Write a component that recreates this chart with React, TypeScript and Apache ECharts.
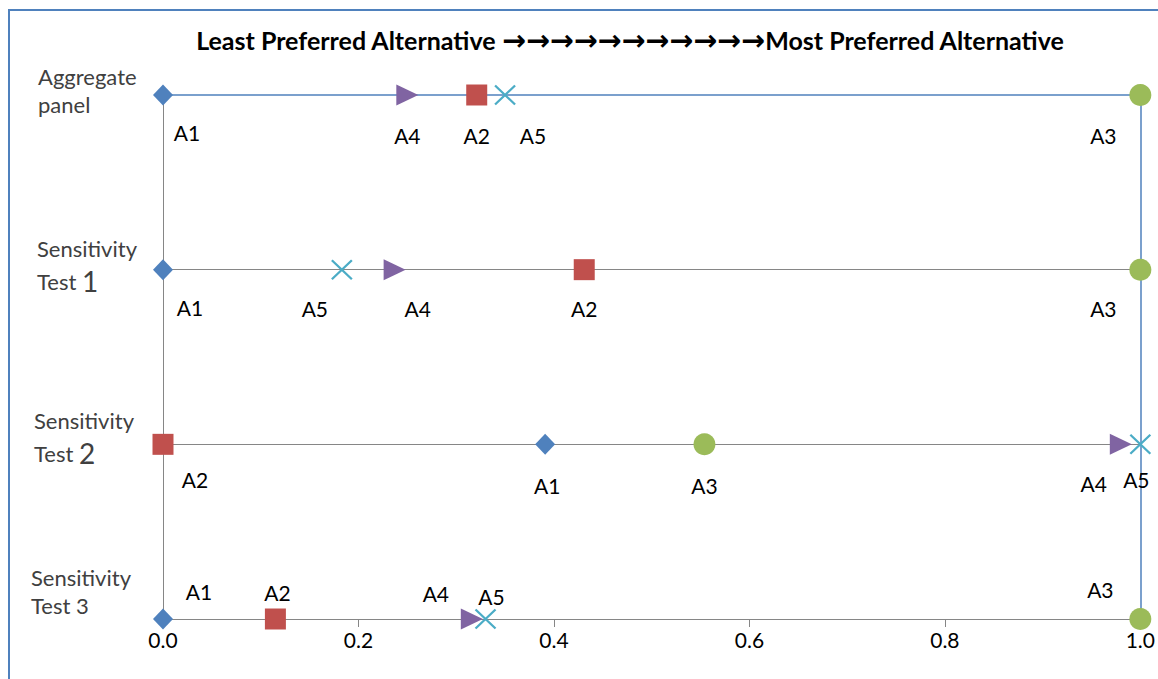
import React, { useEffect, useRef } from 'react';
import * as echarts from 'echarts';

// Rows, top to bottom, and the y level each row sits on
const rowNames = ['Aggregate panel', 'Sensitivity Test 1', 'Sensitivity Test 2', 'Sensitivity Test 3'];
const rowLevels = [3, 2, 1, 0];
const bigDigitRows = [false, true, true, false];

// Alternatives and their normalised preference scores per row
const alternatives = ['A1', 'A2', 'A3', 'A4', 'A5'];
const a1Scores = [0, 0, 0.391, 0];
const a2Scores = [0.321, 0.431, 0, 0.115];
const a3Scores = [1, 1, 0.554, 1];
const a4Scores = [0.25, 0.237, 0.98, 0.316];
const a5Scores = [0.35, 0.183, 1, 0.33];

const xTicks = [0, 0.2, 0.4, 0.6, 0.8, 1.0];

const titleLeft = 'Least Preferred Alternative ';
const titleArrows = '→→→→→→→→→→→';
const titleRight = 'Most Preferred Alternative';

// Label placement (pixel offset from the marker centre), per alternative per row
const labelOffsets: number[][][] = [
  [[24, 37], [27, 38], [2, 41], [36, -28]],
  [[0, 40], [0, 39], [32, 35], [2, -27]],
  [[-37, 40], [-37, 39], [0, 41], [-40, -30]],
  [[0, 40], [23, 39], [-27, 39], [-36, -26]],
  [[28, 40], [-27, 39], [-4, 35], [6, -23]],
];

const markerStyles = [
  { symbol: 'diamond', size: [20, 21], color: '#4F81BD', stroke: false },
  { symbol: 'rect', size: 21, color: '#C0504D', stroke: false },
  { symbol: 'circle', size: 22, color: '#9BBB59', stroke: false },
  { symbol: 'path://M0,0L10,5L0,10Z', size: [22, 21], color: '#8064A2', stroke: false },
  { symbol: 'path://M0,0L10,10M10,0L0,10', size: [20, 19], color: '#4BACC6', stroke: true },
];

const rowLabelAnchors = [[38, 62], [37, 234], [34, 406], [31, 563]];

const FONT = 'Lato, "Open Sans", sans-serif';
const GREY = '#868686';
const BLUE = '#4F81BD';

export default function App() {
  const ref = useRef<HTMLDivElement>(null);

  useEffect(() => {
    if (!ref.current) return;
    const chart = echarts.init(ref.current, null, { renderer: 'svg' });
    const scoreSets = [a1Scores, a2Scores, a3Scores, a4Scores, a5Scores];

    const series = alternatives.map((name, i) => {
      const m = markerStyles[i];
      return {
        type: 'scatter',
        name,
        clip: false,
        silent: true,
        z: 10,
        symbol: m.symbol,
        symbolSize: m.size,
        itemStyle: m.stroke
          ? { color: m.color, borderColor: m.color, borderWidth: 2.2, opacity: 1 }
          : { color: m.color, opacity: 1 },
        label: {
          show: true,
          position: 'inside',
          formatter: name,
          color: '#000',
          fontFamily: FONT,
          fontSize: 21,
          textBorderWidth: 0,
        },
        emphasis: { disabled: true },
        data: scoreSets[i].map((v, r) => ({
          value: [v, rowLevels[r]],
          label: { offset: labelOffsets[i][r] },
        })),
      };
    });

    const rowLabelGraphics = rowNames.map((name, r) => {
      const cut = name.indexOf(' ');
      const first = name.slice(0, cut);
      let second = name.slice(cut + 1);
      if (bigDigitRows[r]) {
        second = second.slice(0, -1) + '{d|' + second.slice(-1) + '}';
      }
      return {
        type: 'text',
        x: rowLabelAnchors[r][0],
        y: rowLabelAnchors[r][1],
        silent: true,
        style: {
          text: first + '\n' + second,
          fill: '#404040',
          fontFamily: FONT,
          fontSize: 22,
          lineHeight: 28,
          align: 'left',
          verticalAlign: 'top',
          rich: {
            d: { fill: '#404040', fontFamily: FONT, fontSize: 28, lineHeight: 38 },
          },
        },
      };
    });

    chart.setOption({
      animation: false,
      backgroundColor: '#fff',
      grid: { left: 163, right: 15, top: 95, bottom: 60, containLabel: false },
      xAxis: [
        {
          type: 'value',
          position: 'bottom',
          min: xTicks[0],
          max: xTicks[xTicks.length - 1],
          interval: 0.2,
          axisLine: { show: true, onZero: false, lineStyle: { color: GREY, width: 1 } },
          axisTick: { show: true, length: 8, lineStyle: { color: GREY } },
          axisLabel: {
            formatter: (v: number) => v.toFixed(1),
            color: '#000',
            fontFamily: FONT,
            fontSize: 21,
            margin: 10,
          },
          splitLine: { show: false },
        },
        {
          type: 'value',
          position: 'top',
          min: xTicks[0],
          max: xTicks[xTicks.length - 1],
          interval: 0.2,
          z: 5,
          axisLine: { show: true, onZero: false, lineStyle: { color: BLUE, width: 1.5 } },
          axisTick: { show: false },
          axisLabel: { show: false },
          splitLine: { show: false },
        },
      ],
      yAxis: [
        {
          type: 'value',
          position: 'left',
          min: 0,
          max: 3,
          interval: 1,
          axisLine: { show: true, onZero: false, lineStyle: { color: GREY, width: 1 } },
          axisTick: { show: false },
          axisLabel: { show: false },
          splitLine: {
            show: true,
            showMaxLine: false,
            lineStyle: { color: GREY, width: 1 },
          },
        },
        {
          type: 'value',
          position: 'right',
          min: 0,
          max: 3,
          interval: 1,
          z: 5,
          axisLine: { show: true, onZero: false, lineStyle: { color: BLUE, width: 1.5 } },
          axisTick: { show: false },
          axisLabel: { show: false },
          splitLine: { show: false },
        },
      ],
      graphic: [
        {
          type: 'rect',
          silent: true,
          z: -10,
          shape: { x: 9, y: 10, width: 1400, height: 900 },
          style: { fill: 'none', stroke: BLUE, lineWidth: 2 },
        },
        {
          type: 'text',
          x: 630,
          y: 40,
          silent: true,
          style: {
            text: titleLeft + '{a|' + titleArrows + '}' + titleRight,
            align: 'center',
            verticalAlign: 'middle',
            fill: '#000',
            fontFamily: FONT,
            fontWeight: 'bold',
            fontSize: 25,
            rich: {
              a: { fill: '#000', fontFamily: 'DejaVu Sans', fontWeight: 'bold', fontSize: 28.5 },
            },
          },
        },
        ...rowLabelGraphics,
      ],
      series,
    });

    return () => chart.dispose();
  }, []);

  return (
    <div
      ref={ref}
      style={{ position: 'absolute', left: 0, top: 0, width: 1158, height: 679 }}
    />
  );
}
